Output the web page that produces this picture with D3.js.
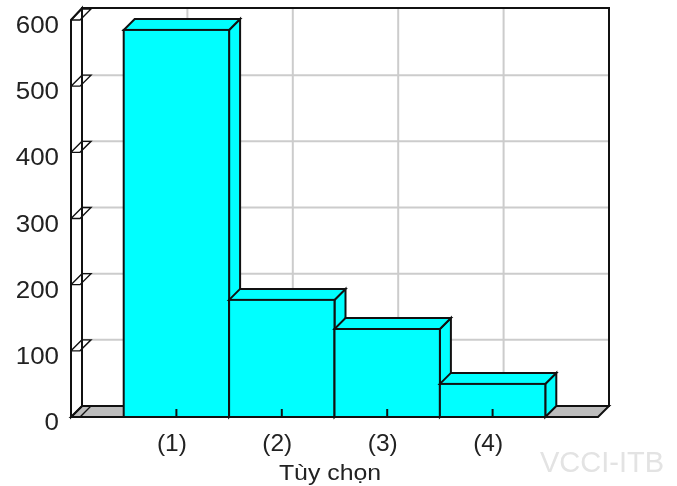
<!DOCTYPE html>
<html><head><meta charset="utf-8">
<style>html,body{margin:0;padding:0;background:#fff}svg{display:block;filter:blur(0.4px)}text{font-family:"Liberation Sans",Arial,sans-serif}</style>
<script src="https://cdn.jsdelivr.net/npm/d3@7"></script></head>
<body><svg id="c" width="677" height="486"></svg>
<script>
const categories = ["(1)", "(2)", "(3)", "(4)"];
const values = [585, 177, 133, 50];
const yTicks = [0, 100, 200, 300, 400, 500, 600];
const axisTitle = "Tùy chọn";
const watermark = "VCCI-ITB";

const svg = d3.select("#c");
const plotLeft = 71, plotRight = 598, plotBottom = 417, plotTop = 20, depth = 11;
const x = d3.scaleBand().domain(categories).range([plotLeft, plotRight]).paddingInner(0).paddingOuter(0.5);
const y = d3.scaleLinear().domain([0, 600]).range([plotBottom, plotTop]);
const ink = "#111", grid = "#cccccc", fill = "#00ffff", sw = 2;
const poly = pts => pts.map(p => p.join(",")).join(" ");

const wall = svg.append("g");
wall.append("rect").attr("x", plotLeft + depth).attr("y", plotTop - depth - 1).attr("width", plotRight - plotLeft).attr("height", plotBottom - plotTop + 1).attr("fill", "#fff");
wall.selectAll("line.h").data(yTicks.slice(1, -1)).join("line").attr("class", "h")
  .attr("x1", plotLeft + depth).attr("x2", plotRight + depth)
  .attr("y1", d => y(d) - depth).attr("y2", d => y(d) - depth)
  .attr("stroke", grid).attr("stroke-width", sw);
wall.selectAll("line.v").data(categories).join("line").attr("class", "v")
  .attr("x1", d => x(d) + x.bandwidth() / 2 + depth).attr("x2", d => x(d) + x.bandwidth() / 2 + depth)
  .attr("y1", plotTop - depth - 1).attr("y2", plotBottom - depth)
  .attr("stroke", grid).attr("stroke-width", sw);
wall.append("polygon").attr("points", poly([[plotLeft, plotBottom], [plotRight, plotBottom], [plotRight + depth, plotBottom - depth], [plotLeft + depth, plotBottom - depth]]))
  .attr("fill", "#bdbdbd").attr("stroke", ink).attr("stroke-width", sw);
wall.append("rect").attr("x", plotLeft + depth).attr("y", plotTop - depth - 1).attr("width", plotRight - plotLeft).attr("height", plotBottom - plotTop + 1)
  .attr("fill", "none").attr("stroke", ink).attr("stroke-width", sw);
wall.append("polygon").attr("points", poly([[plotLeft, plotBottom], [plotLeft, plotTop], [plotLeft + depth, plotTop - depth - 1], [plotLeft + depth, plotBottom - depth]]))
  .attr("fill", "#fff").attr("stroke", ink).attr("stroke-width", sw);

wall.selectAll("path.t").data(yTicks).join("path").attr("class", "t")
  .attr("d", d => { const v = y(d); return `M${plotLeft},${v}L${plotLeft + depth},${v - depth}M${plotLeft},${v}L${plotLeft + 9},${v}L${plotLeft + 20},${v - depth}L${plotLeft + depth},${v - depth}`; })
  .attr("fill", "none").attr("stroke", ink).attr("stroke-width", 1.4);

const bars = svg.append("g").selectAll("g").data(categories).join("g");
bars.append("polygon").attr("points", (d, i) => {
  const a = x(d) + x.bandwidth(), t = y(values[i]);
  return poly([[a, plotBottom], [a, t], [a + depth, t - depth], [a + depth, plotBottom - depth]]);
}).attr("fill", fill).attr("stroke", ink).attr("stroke-width", sw);
bars.append("polygon").attr("points", (d, i) => {
  const a = x(d), b = a + x.bandwidth(), t = y(values[i]);
  return poly([[a, t], [b, t], [b + depth, t - depth], [a + depth, t - depth]]);
}).attr("fill", fill).attr("stroke", ink).attr("stroke-width", sw);
bars.append("rect").attr("x", d => x(d)).attr("width", x.bandwidth())
  .attr("y", (d, i) => y(values[i])).attr("height", (d, i) => plotBottom - y(values[i]))
  .attr("fill", fill).attr("stroke", ink).attr("stroke-width", sw);
bars.append("line").attr("x1", d => x(d) + x.bandwidth() / 2).attr("x2", d => x(d) + x.bandwidth() / 2)
  .attr("y1", plotBottom).attr("y2", plotBottom - 8).attr("stroke", ink).attr("stroke-width", sw);

svg.append("line").attr("x1", plotLeft).attr("x2", plotRight).attr("y1", plotBottom).attr("y2", plotBottom).attr("stroke", ink).attr("stroke-width", sw);

const txt = svg.append("g").attr("fill", "#222").attr("font-size", 24);
txt.selectAll("text.y").data(yTicks).join("text").attr("class", "y")
  .attr("transform", d => `translate(59,${y(d) + 13}) scale(1.08,1)`).attr("text-anchor", "end").text(d => d);
txt.selectAll("text.x").data(categories).join("text").attr("class", "x")
  .attr("transform", d => `translate(${x(d) + x.bandwidth() / 2 - 4.5},451) scale(1.02,1)`).attr("text-anchor", "middle").text(d => d);
txt.append("text").attr("font-size", 22).attr("transform", "translate(330,480) scale(1.13,1)").attr("text-anchor", "middle").text(axisTitle);
svg.append("text").attr("x", 540).attr("y", 472).attr("font-size", 29).attr("fill", "#e3e3e3").text(watermark);
</script></body></html>
